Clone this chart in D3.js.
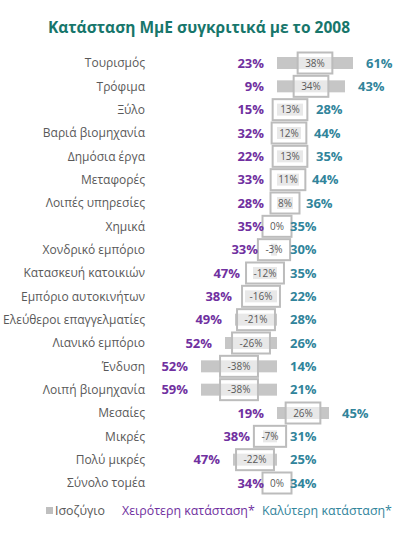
<!DOCTYPE html>
<html>
<head>
<meta charset="utf-8">
<script src="https://cdn.jsdelivr.net/npm/d3@7"></script>
<style>
  body { margin:0; background:#fff; }
  svg text { font-family: "Open Sans", "Noto Sans", sans-serif; }
</style>
</head>
<body>
<div id="chart"></div>
<script>
// data
const categories = ['Τουρισμός','Τρόφιμα','Ξύλο','Βαριά βιομηχανία','Δημόσια έργα','Μεταφορές','Λοιπές υπηρεσίες','Χημικά','Χονδρικό εμπόριο','Κατασκευή κατοικιών','Εμπόριο αυτοκινήτων','Ελεύθεροι επαγγελματίες','Λιανικό εμπόριο','Ένδυση','Λοιπή βιομηχανία','Μεσαίες','Μικρές','Πολύ μικρές','Σύνολο τομέα'];
const worse   = [23, 9,15,32,22,33,28,35,33,47,38,49,52,52,59,19,38,47,34];
const better  = [61,43,28,44,35,44,36,35,30,35,22,28,26,14,21,45,31,25,34];
const balance = [38,34,13,12,13,11, 8, 0,-3,-12,-16,-21,-26,-38,-38,26,-7,-22,0];
const legendItems = ['Ισοζύγιο','Χειρότερη κατάσταση*','Καλύτερη κατάσταση*'];

const W = 398, H = 538;
const PURPLE = '#7030a0', TEAL = '#31849b', GREY = '#c6c6c6';

const svg = d3.select('#chart').append('svg').attr('width', W).attr('height', H);

svg.append('text').attr('x', 199).attr('y', 33).attr('text-anchor','middle')
  .style('font-size','15.5px').style('font-weight','bold').attr('fill','#17766b')
  .text('Κατάσταση ΜμΕ συγκριτικά με το 2008');

const x = d3.scaleLinear().domain([-40,40]).range([197,357]);
const y = d3.scalePoint().domain(categories).range([63,483]);

const rows = categories.map((c,i)=>({c, w:worse[i], b:better[i], bal:balance[i]}));

const g = svg.append('g');

// category names
g.selectAll('.cat').data(rows).enter().append('text')
  .attr('x',145).attr('y',d=>y(d.c)).attr('dy','.35em').attr('text-anchor','end')
  .style('font-size','12px').attr('fill','#595959').text(d=>d.c);

// balance bars
g.selectAll('.bar').data(rows).enter().append('rect')
  .attr('x',d=>x(Math.min(0,d.bal))).attr('y',d=>y(d.c)-6)
  .attr('width',d=>Math.abs(x(d.bal)-x(0))).attr('height',12)
  .attr('fill',GREY);

// boxed balance labels
const lab = g.selectAll('.lab').data(rows).enter().append('g')
  .attr('transform',d=>`translate(${(x(d.bal)+x(0))/2},${y(d.c)})`);
lab.append('text').attr('text-anchor','middle').attr('dy','.35em')
  .style('font-size','10px').attr('fill','#595959').text(d=>d.bal+'%');
lab.each(function(){
  const t = d3.select(this).select('text');
  const bw = t.node().getComputedTextLength() + 15;
  d3.select(this).insert('rect','text').attr('x',-bw/2).attr('y',-10.5)
    .attr('width',bw).attr('height',21)
    .attr('fill','#fff').attr('fill-opacity',0.6)
    .attr('stroke','#bcbcbc').attr('stroke-width',2);
});

// worse labels (left)
g.selectAll('.wv').data(rows).enter().append('text')
  .attr('x',d=>x(Math.min(0,d.bal))-13).attr('y',d=>y(d.c)).attr('dy','.36em')
  .attr('text-anchor','end').style('font-size','13px').style('font-weight','bold')
  .attr('fill',PURPLE).text(d=>d.w+'%');

// better labels (right)
g.selectAll('.bv').data(rows).enter().append('text')
  .attr('x',d=>x(Math.max(0,d.bal))+13).attr('y',d=>y(d.c)).attr('dy','.36em')
  .attr('text-anchor','start').style('font-size','13px').style('font-weight','bold')
  .attr('fill',TEAL).text(d=>d.b+'%');

// legend
const leg = svg.append('g').attr('transform','translate(0,511)');
leg.append('rect').attr('x',46).attr('y',-4).attr('width',7).attr('height',7).attr('fill','#bfbfbf');
const legX = [55,122,262], legC = ['#595959',PURPLE,TEAL];
leg.selectAll('.lt').data(legendItems).enter().append('text')
  .attr('x',(d,i)=>legX[i]).attr('dy','.35em').style('font-size','12.4px')
  .attr('fill',(d,i)=>legC[i]).text(d=>d);
</script>
</body>
</html>
